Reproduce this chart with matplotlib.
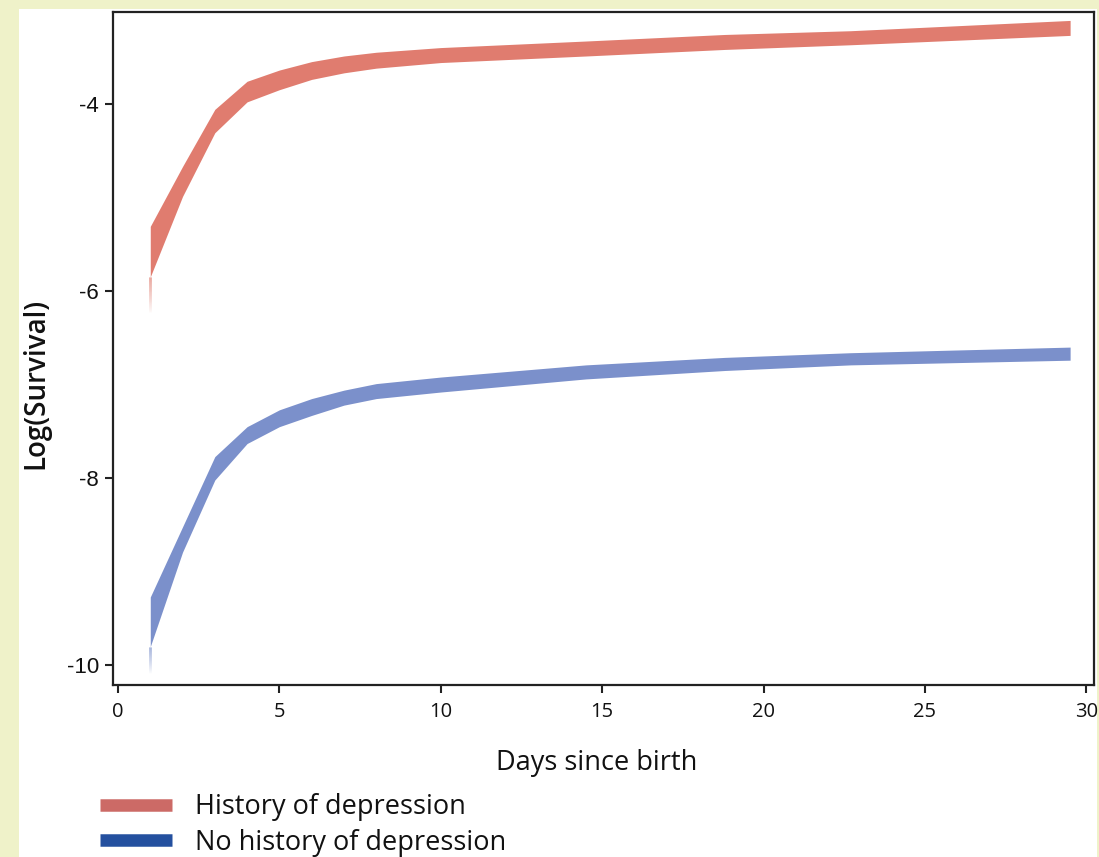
import numpy as np
import matplotlib
matplotlib.use("Agg")
import matplotlib.pyplot as plt
from matplotlib.patches import Rectangle
from matplotlib.lines import Line2D
from matplotlib.collections import LineCollection

# ---- data ----
days = [1, 2, 3, 4, 5, 6, 7, 8, 10, 14.5, 18.8, 22.7, 29.5]

dep_upper = [-5.31, -4.67, -4.06, -3.76, -3.64, -3.55, -3.49, -3.45, -3.40, -3.33, -3.26, -3.22, -3.11]
dep_lower = [-5.85, -4.99, -4.31, -3.98, -3.85, -3.74, -3.67, -3.62, -3.56, -3.49, -3.42, -3.37, -3.27]
dep_fade_end = -6.24

nodep_upper = [-9.27, -8.52, -7.77, -7.45, -7.27, -7.15, -7.06, -6.99, -6.92, -6.79, -6.71, -6.66, -6.60]
nodep_lower = [-9.80, -8.79, -8.02, -7.63, -7.45, -7.33, -7.22, -7.15, -7.08, -6.94, -6.85, -6.79, -6.74]
nodep_fade_end = -10.09

series_labels = ["History of depression", "No history of depression"]
x_ticks = [0, 5, 10, 15, 20, 25, 30]
y_ticks = [-10, -8, -6, -4]

# ---- styling ----
band_colors = ["#E07C6F", "#7B90CB"]
legend_colors = ["#CC6A66", "#24509F"]
bg_yellow = "#EFF2C9"

fig = plt.figure(figsize=(10.99, 8.57), dpi=100)
fig.patch.set_facecolor(bg_yellow)
fig.patches.append(Rectangle((19 / 1099, 0), 1 - 19 / 1099 - 2 / 1099, 1 - 9 / 857,
                             transform=fig.transFigure, facecolor="white",
                             edgecolor="none", zorder=-5))

ax = fig.add_axes([113 / 1099, 1 - 685 / 857, (1094 - 113) / 1099, (685 - 12) / 857])
ax.set_zorder(2)
ax.set_facecolor("white")

def band(x, up, lo, fade_end, color):
    ax.fill_between(x, lo, up, color=color, linewidth=0, zorder=3)
    # fading sliver below the first point
    n = 40
    ys = np.linspace(lo[0], fade_end, n + 1)
    segs = [[(x[0], ys[i]), (x[0], ys[i + 1])] for i in range(n)]
    rgba = np.array([matplotlib.colors.to_rgba(color)] * n)
    rgba[:, 3] = np.linspace(0.8, 0.0, n)
    ax.add_collection(LineCollection(segs, colors=rgba, linewidths=2.0, zorder=3))

band(days, dep_upper, dep_lower, dep_fade_end, band_colors[0])
band(days, nodep_upper, nodep_lower, nodep_fade_end, band_colors[1])

ax.set_xlim(-0.155, 30.24)
ax.set_ylim(-10.21, -3.02)
ax.set_xticks(x_ticks)
ax.set_yticks(y_ticks)
ax.set_xticklabels([str(t) for t in x_ticks], fontfamily="Open Sans", fontsize=14.5)
ax.set_yticklabels([str(t) for t in y_ticks], fontfamily="Liberation Sans", fontsize=16)
ax.tick_params(axis="both", direction="out", length=6, width=1.5, color="#222222",
               labelcolor="#111111", pad=4)
ax.tick_params(axis="x", pad=6)
for s in ax.spines.values():
    s.set_linewidth(1.6)
    s.set_color("#222222")

ax.set_xlabel("Days since birth", fontfamily="Open Sans", fontsize=19.5,
              color="#111111")
ax.xaxis.set_label_coords((597 - 113) / 981, (685 - 749) / 673)
ax.set_ylabel("Log(Survival)", fontfamily="Open Sans", fontsize=20,
              fontweight="semibold", color="#111111")
ax.yaxis.set_label_coords((50 - 113) / 981, (685 - 383) / 673)

handles = [Line2D([0], [0], color=legend_colors[0], lw=9, solid_capstyle="butt"),
           Line2D([0], [0], color=legend_colors[1], lw=9, solid_capstyle="butt")]
leg = fig.legend(handles, series_labels, loc="upper left",
                 bbox_to_anchor=(100 / 1099, 1 - 793 / 857), frameon=False,
                 prop={"family": "Open Sans", "size": 19.5}, handlelength=2.65,
                 handletextpad=0.85, labelspacing=0.28, borderaxespad=0,
                 borderpad=0)
for t in leg.get_texts():
    t.set_color("#111111")

fig.savefig("out.png", dpi=100, facecolor=fig.get_facecolor())
